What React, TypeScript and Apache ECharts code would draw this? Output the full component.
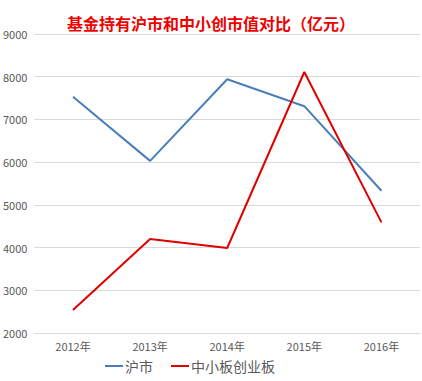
import React, { useEffect, useRef } from "react";
import * as echarts from "echarts";

const categories = ["2012年", "2013年", "2014年", "2015年", "2016年"];
const shanghai = [7530, 6030, 7940, 7310, 5330];
const smeGem = [2540, 4200, 3990, 8110, 4590];
const seriesNames = ["沪市", "中小板创业板"];
const titleText = "基金持有沪市和中小创市值对比（亿元）";

export default function App() {
  const ref = useRef<HTMLDivElement>(null);
  useEffect(() => {
    const chart = echarts.init(ref.current!, null, { renderer: "svg" });
    chart.setOption({
      animation: false,
      backgroundColor: "#ffffff",
      title: {
        text: titleText,
        left: "center",
        top: 10,
        textStyle: {
          color: "#ee0000",
          fontSize: 16,
          fontWeight: "bold",
          fontFamily: "Noto Sans CJK SC",
        },
      },
      legend: {
        bottom: 3,
        left: 100,
        itemWidth: 18,
        itemHeight: 2,
        itemGap: 18,
        icon: "rect",
        textStyle: { color: "#595959", fontSize: 14, fontFamily: "Noto Sans CJK SC", padding: [0, 0, 0, -3] },
        data: seriesNames,
      },
      grid: { left: 34, right: 2, top: 34, bottom: 48 },
      xAxis: {
        type: "category",
        data: categories,
        boundaryGap: true,
        axisLine: { show: true, lineStyle: { color: "#d9d9d9" } },
        axisTick: { show: false },
        axisLabel: { color: "#595959", fontSize: 11, margin: 7, fontFamily: "Noto Sans CJK SC" },
      },
      yAxis: {
        type: "value",
        min: 2000,
        max: 9000,
        interval: 1000,
        axisLine: { show: false },
        axisTick: { show: false },
        splitLine: { lineStyle: { color: "#d9d9d9", width: 1 } },
        axisLabel: {
          color: "#595959",
          fontSize: 11,
          margin: 7,
          fontFamily: "Noto Sans CJK SC",
          formatter: (v: number) => String(v),
        },
      },
      series: [
        {
          name: seriesNames[0],
          type: "line",
          data: shanghai,
          symbol: "none",
          lineStyle: { color: "#4a7ebb", width: 2 },
          itemStyle: { color: "#4a7ebb" },
        },
        {
          name: seriesNames[1],
          type: "line",
          data: smeGem,
          symbol: "none",
          lineStyle: { color: "#e00000", width: 2 },
          itemStyle: { color: "#e00000" },
        },
      ],
    });
    return () => chart.dispose();
  }, []);
  return <div ref={ref} style={{ width: 422, height: 381, position: "fixed", left: 0, top: 0 }} />;
}
